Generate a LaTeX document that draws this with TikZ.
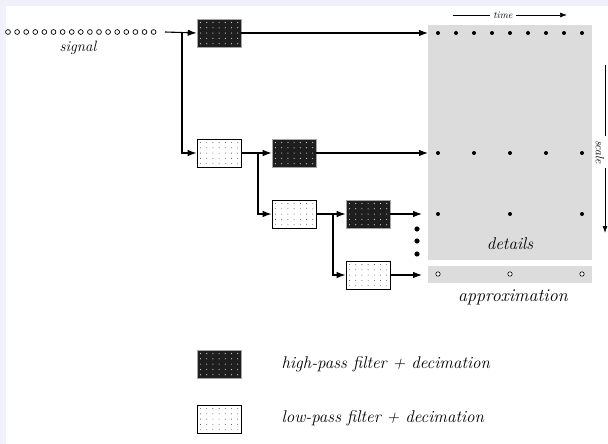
\documentclass[tikz,border=0pt]{standalone}
\usetikzlibrary{arrows.meta,calc}
\definecolor{edge}{HTML}{F1F1FB}
\definecolor{panel}{HTML}{DCDCDC}
\definecolor{darkfill}{HTML}{1E1E1E}
\tikzset{
  px/.style={x=1pt,y=-1pt},
  wire/.style={line width=1.1pt,black},
  arr/.style={wire,-{Latex[length=9pt,width=6.5pt]}},
  filterbox/.style={rectangle,minimum width=44pt,minimum height=28pt,inner sep=0pt},
  hp/.style={filterbox,fill=darkfill,draw=gray!70,line width=0.6pt,
    path picture={\foreach \i in {0,...,6} \foreach \j in {0,...,4}
      \fill[white!80!black] ($(path picture bounding box.north west)+(3.5+\i*6.2,3.5+\j*5.3)$) circle (0.6pt);}},
  lp/.style={filterbox,fill=white,draw=black,line width=0.8pt,
    path picture={\foreach \i in {0,...,6} \foreach \j in {0,...,4}
      \fill[black!75] ($(path picture bounding box.north west)+(3.5+\i*6.2,3.5+\j*5.3)$) circle (0.45pt);}},
  coef/.style={fill=black},
}
\begin{document}
\begin{tikzpicture}[px]
\useasboundingbox (0,0) rectangle (608,444);
\fill[white] (0,0) rectangle (608,444);
% faint page edges
\fill[edge] (0,0) rectangle (6,444);
\fill[edge] (0,0) rectangle (608,6);

% input signal samples
\foreach \k in {0,...,16} \draw[line width=0.7pt] (8+\k*9.1,32) circle (2.4);
\node[font=\itshape\fontsize{15}{17}\selectfont] (sig) at (78,48) {signal};

% filter bank
\node[hp] (h1) at (219,33) {};
\node[lp] (l1) at (219,153) {};
\node[hp] (h2) at (294,153) {};
\node[lp] (l2) at (294,214) {};
\node[hp] (h3) at (368,214) {};
\node[lp] (l3) at (368,275) {};

\coordinate (in) at (165,32);
\coordinate (b1) at (182,33);
\coordinate (b2) at (258,153);
\coordinate (b3) at (333,214);
\coordinate (t1) at (428,33);
\coordinate (t2) at (428,153);
\coordinate (t3) at (422,214);
\coordinate (t4) at (422,275);

% details and approximation panels
\fill[panel] (428,25) rectangle (592,260);
\fill[panel] (428,266) rectangle (592,283);

\draw[arr] (in) -- (h1.west);
\draw[arr] (b1) |- (l1.west);
\draw[arr] (h1.east) -- (t1);
\draw[arr] (l1.east) -- (h2.west);
\draw[arr] (b2) |- (l2.west);
\draw[arr] (h2.east) -- (t2);
\draw[arr] (l2.east) -- (h3.west);
\draw[arr] (b3) |- (l3.west);
\draw[arr] (h3.east) -- (t3);
\draw[arr] (l3.east) -- (t4);

% further levels
\foreach \y in {229,241,254} \fill (417,\y) circle (2.6);

% coefficients
\foreach \k in {0,...,8} \fill[coef] (438+\k*18,33) circle (2);
\foreach \k in {0,...,4} \fill[coef] (438+\k*36,153) circle (2);
\foreach \k in {0,...,2} \fill[coef] (438+\k*72,214) circle (2);
\foreach \k in {0,...,2} \draw[line width=0.6pt,fill=white] (438+\k*72,274) circle (2.2);

\node[font=\itshape\fontsize{17}{19}\selectfont] (det) at (510,244) {details};
\node[font=\itshape\fontsize{18}{20}\selectfont] (apx) at (513,297) {approximation};

% time axis
\node[font=\itshape\fontsize{10}{11}\selectfont] (time) at (503,15) {time};
\draw[line width=0.7pt] (453,15) -- (time.west);
\draw[line width=0.7pt,-{Latex[length=7pt,width=5pt]}] (time.east) -- (567,15);

% scale axis
\node[font=\itshape\fontsize{12}{14}\selectfont,rotate=-90] (scale) at (600,152) {scale};
\draw[line width=0.8pt] (605,65) -- (605,136);
\draw[line width=0.8pt,-{Latex[length=7pt,width=5pt]}] (605,168) -- (605,233);

% legend
\node[hp] (lh) at (219,364) {};
\node[lp] (ll) at (219,419) {};
\node[font=\itshape\fontsize{17}{19}\selectfont,anchor=west] (lht) at (278,364) {high-pass filter + decimation};
\node[font=\itshape\fontsize{17}{19}\selectfont,anchor=west] (llt) at (278,418) {low-pass filter + decimation};
\end{tikzpicture}
\end{document}
